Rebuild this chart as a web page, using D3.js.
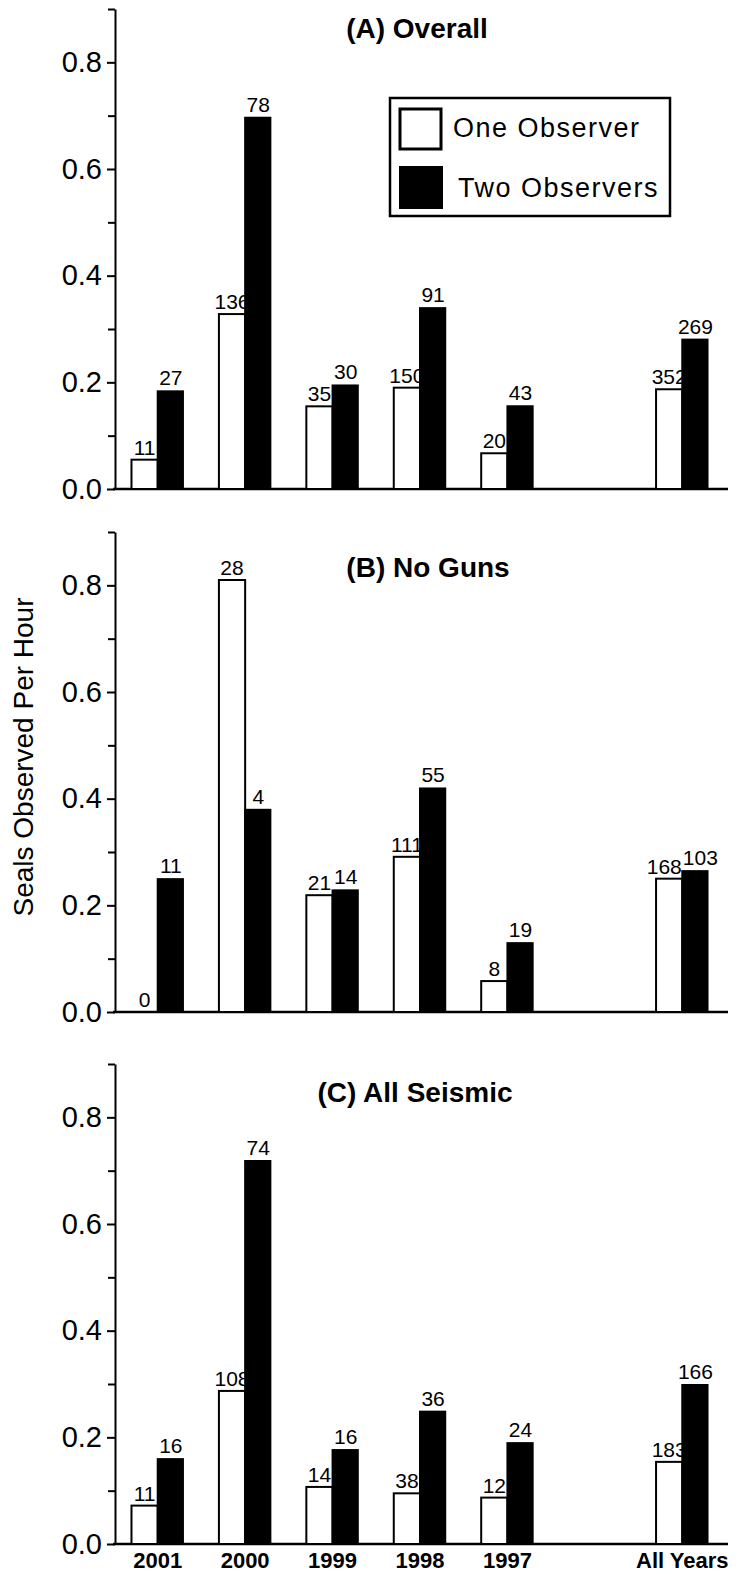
<!DOCTYPE html>
<meta charset="utf-8">
<style>

body {
  margin: 0;
  background: #fff;
}

svg text {
  font-family: "Liberation Sans", Arial, sans-serif;
  fill: #000;
}

.bar-one {
  fill: #fff;
  stroke: #000;
  stroke-width: 2px;
}

.bar-two {
  fill: #000;
}

.count {
  font-size: 21px;
  text-anchor: middle;
}

.title {
  font-size: 28px;
  font-weight: bold;
  text-anchor: middle;
}

.axis path,
.axis line {
  stroke: #000;
  stroke-width: 2px;
}

.axis text {
  font-size: 29px;
  font-family: "Liberation Sans", Arial, sans-serif;
}

.baseline {
  stroke: #000;
  stroke-width: 2.5px;
}

.year {
  font-size: 22px;
  font-weight: bold;
  text-anchor: middle;
}

.legend-text {
  font-size: 27px;
  letter-spacing: 1.5px;
}

</style>
<body>
<script src="https://d3js.org/d3.v7.min.js"></script>
<script>

// categories (the empty slot is the gap before "All Years")
var slots = ["2001", "2000", "1999", "1998", "1997", "", "All Years"];
var groups = ["2001", "2000", "1999", "1998", "1997", "All Years"];

var majorTicks = [0, 0.2, 0.4, 0.6, 0.8];
var minorTicks = [0.1, 0.3, 0.5, 0.7, 0.9];

// (A) Overall
var overallOne = [0.055, 0.328, 0.155, 0.190, 0.067, 0.187];
var overallTwo = [0.185, 0.698, 0.196, 0.341, 0.157, 0.282];
var overallOneN = ["11", "136", "35", "150", "20", "352"];
var overallTwoN = ["27", "78", "30", "91", "43", "269"];

// (B) No Guns
var noGunsOne = [0, 0.810, 0.219, 0.291, 0.058, 0.250];
var noGunsTwo = [0.251, 0.381, 0.230, 0.421, 0.131, 0.266];
var noGunsOneN = ["0", "28", "21", "111", "8", "168"];
var noGunsTwoN = ["11", "4", "14", "55", "19", "103"];

// (C) All Seismic
var seismicOne = [0.072, 0.287, 0.107, 0.095, 0.087, 0.154];
var seismicTwo = [0.161, 0.720, 0.178, 0.250, 0.191, 0.300];
var seismicOneN = ["11", "108", "14", "38", "12", "183"];
var seismicTwoN = ["16", "74", "16", "36", "24", "166"];

var seriesNames = ["One Observer", "Two Observers"];

var width = 741,
    height = 1575;

var svg = d3.select("body").append("svg")
    .attr("width", width)
    .attr("height", height);

var x = d3.scaleBand()
    .domain(slots)
    .range([114, 726])
    .paddingInner(0.4)
    .paddingOuter(0.2);

var half = x.bandwidth() / 2;

var panels = [
  {title: "(A) Overall", one: overallOne, two: overallTwo, oneN: overallOneN, twoN: overallTwoN,
   zero: 489, titleX: 417, titleY: 38},
  {title: "(B) No Guns", one: noGunsOne, two: noGunsTwo, oneN: noGunsOneN, twoN: noGunsTwoN,
   zero: 1012, titleX: 428, titleY: 577},
  {title: "(C) All Seismic", one: seismicOne, two: seismicTwo, oneN: seismicOneN, twoN: seismicTwoN,
   zero: 1544, titleX: 415, titleY: 1102}
];

panels.forEach(function(p, i) {
  var y = d3.scaleLinear()
      .domain([0, 0.9])
      .range([p.zero, p.zero - 480]);

  var g = svg.append("g");

  var rows = groups.map(function(k, j) {
    return {key: k, one: p.one[j], two: p.two[j], oneN: p.oneN[j], twoN: p.twoN[j]};
  });

  // baseline
  g.append("line")
      .attr("class", "baseline")
      .attr("x1", x.range()[0] - 1)
      .attr("x2", x.range()[1] + 2)
      .attr("y1", y(0))
      .attr("y2", y(0));

  // white bars
  g.selectAll(".bar-one")
      .data(rows.filter(function(d) { return d.one > 0; }))
    .enter().append("rect")
      .attr("class", "bar-one")
      .attr("x", function(d) { return x(d.key); })
      .attr("y", function(d) { return y(d.one); })
      .attr("width", half)
      .attr("height", function(d) { return y(0) - y(d.one); });

  // black bars
  g.selectAll(".bar-two")
      .data(rows)
    .enter().append("rect")
      .attr("class", "bar-two")
      .attr("x", function(d) { return x(d.key) + half - 1; })
      .attr("y", function(d) { return y(d.two); })
      .attr("width", half + 1)
      .attr("height", function(d) { return y(0) - y(d.two); });

  // counts
  var oneLabels = g.selectAll(".count-one")
      .data(rows)
    .enter().append("text")
      .attr("class", "count count-one")
      .attr("x", function(d) { return x(d.key) + half / 2; })
      .attr("y", function(d) { return y(d.one) - 5; })
      .text(function(d) { return d.oneN; });

  var twoLabels = g.selectAll(".count-two")
      .data(rows)
    .enter().append("text")
      .attr("class", "count count-two")
      .attr("x", function(d) { return x(d.key) + half * 1.5; })
      .attr("y", function(d) { return y(d.two) - 5; })
      .text(function(d) { return d.twoN; });

  // push apart the two counts of a group when they collide
  var oneNodes = oneLabels.nodes(), twoNodes = twoLabels.nodes();
  oneNodes.forEach(function(a, j) {
    var b = twoNodes[j];
    var ba = a.getBBox(), bb = b.getBBox();
    var overlapX = ba.x + ba.width + 1 - bb.x;
    var overlapY = Math.min(ba.y + ba.height, bb.y + bb.height) - Math.max(ba.y, bb.y);
    if (overlapX > 0 && overlapY > 2) {
      d3.select(a).attr("x", +a.getAttribute("x") - overlapX / 2);
      d3.select(b).attr("x", +b.getAttribute("x") + overlapX / 2);
    }
  });

  // y axis
  g.append("g")
      .attr("class", "axis")
      .attr("transform", "translate(115,0)")
      .call(d3.axisLeft(y).tickValues(minorTicks).tickSize(7).tickFormat(""))
      .select(".domain").remove();

  g.append("g")
      .attr("class", "axis")
      .attr("transform", "translate(115,0)")
      .call(d3.axisLeft(y)
        .tickValues(majorTicks)
        .tickSizeInner(8)
        .tickSizeOuter(0)
        .tickPadding(5)
        .tickFormat(d3.format(".1f")))
      .selectAll("text")
      .attr("fill", "#000");

  g.append("text")
      .attr("class", "title")
      .attr("x", p.titleX)
      .attr("y", p.titleY)
      .text(p.title);

  if (i === panels.length - 1) {
    g.selectAll(".year")
        .data(groups)
      .enter().append("text")
        .attr("class", "year")
        .attr("x", function(d) { return x(d) + x.bandwidth() / 2; })
        .attr("y", 1568)
        .text(function(d) { return d; });
  }
});

// y axis title
svg.append("text")
    .attr("transform", "translate(33,757) rotate(-90)")
    .attr("text-anchor", "middle")
    .style("font-size", "28px")
    .text("Seals Observed Per Hour");

// legend
var legend = svg.append("g");

legend.append("rect")
    .attr("x", 390)
    .attr("y", 98)
    .attr("width", 280)
    .attr("height", 118)
    .attr("fill", "#fff")
    .attr("stroke", "#000")
    .attr("stroke-width", 2.5);

legend.append("rect")
    .attr("x", 400)
    .attr("y", 109)
    .attr("width", 41)
    .attr("height", 40)
    .attr("fill", "#fff")
    .attr("stroke", "#000")
    .attr("stroke-width", 3);

legend.append("rect")
    .attr("x", 399)
    .attr("y", 166)
    .attr("width", 44)
    .attr("height", 43)
    .attr("fill", "#000");

legend.append("text")
    .attr("class", "legend-text")
    .attr("x", 453)
    .attr("y", 137)
    .text(seriesNames[0]);

legend.append("text")
    .attr("class", "legend-text")
    .attr("x", 458)
    .attr("y", 197)
    .text(seriesNames[1]);

</script>
</body>
